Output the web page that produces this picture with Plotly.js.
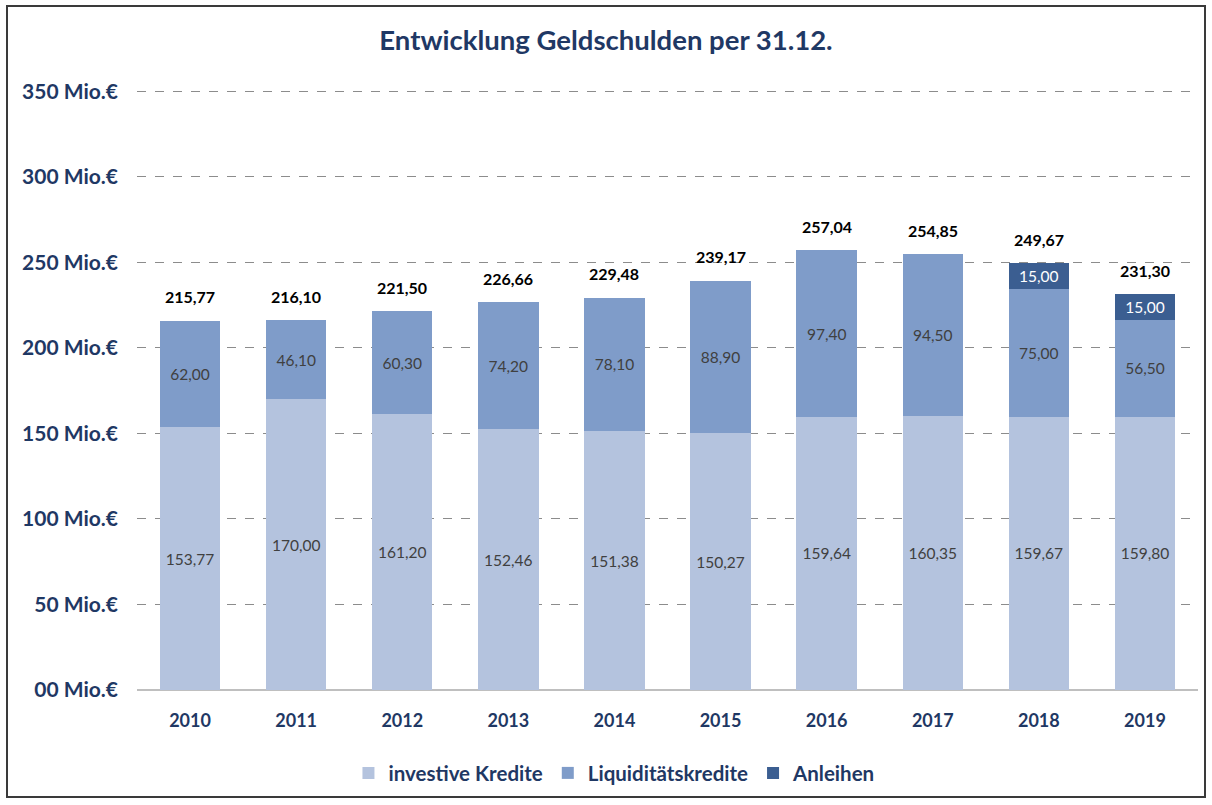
<!DOCTYPE html>
<html><head><meta charset="utf-8">
<script src="https://cdn.plot.ly/plotly-3.0.1.min.js"></script>
<style>
html,body{margin:0;padding:0;background:#fff;}
#wrap{position:relative;width:1212px;height:805px;}
#chart{width:1212px;height:805px;}
#frame{position:absolute;left:6px;top:5px;width:1200px;height:793px;border:2px solid #3a3a3a;pointer-events:none;box-sizing:border-box;}
</style></head>
<body><div id="wrap"><div id="chart"></div><div id="frame"></div></div>
<script>
const years = ['2010','2011','2012','2013','2014','2015','2016','2017','2018','2019'];
const investiveKredite = [153.77,170.00,161.20,152.46,151.38,150.27,159.64,160.35,159.67,159.80];
const liquiditaetskredite = [62.00,46.10,60.30,74.20,78.10,88.90,97.40,94.50,75.00,56.50];
const anleihen = [null,null,null,null,null,null,null,null,15.00,15.00];
const totals = [215.77,216.10,221.50,226.66,229.48,239.17,257.04,254.85,249.67,231.30];
const tickVals = [0,50,100,150,200,250,300,350];
const tickText = ['00 Mio.€','50 Mio.€','100 Mio.€','150 Mio.€','200 Mio.€','250 Mio.€','300 Mio.€','350 Mio.€'];

const fmt = v => v == null ? '' : v.toFixed(2).replace('.', ',');
const font = 'Lato, "Open Sans", sans-serif';
const navy = '#1F3864';

const traces = [
  {type:'bar', name:'investive Kredite', x:years, y:investiveKredite,
   marker:{color:'#B4C3DE'}, text:investiveKredite.map(fmt), textposition:'inside',
   insidetextanchor:'middle', textfont:{size:15.5, color:'#404040', family:font}, hoverinfo:'y'},
  {type:'bar', name:'Liquiditätskredite', x:years, y:liquiditaetskredite,
   marker:{color:'#7F9CC9'}, text:liquiditaetskredite.map(fmt), textposition:'inside',
   insidetextanchor:'middle', textfont:{size:15.5, color:'#404040', family:font}, hoverinfo:'y'},
  {type:'bar', name:'Anleihen', x:years, y:anleihen,
   marker:{color:'#3B5E91'}, text:anleihen.map(fmt), textposition:'inside',
   insidetextanchor:'middle', textfont:{size:15.5, color:'#ffffff', family:font}, hoverinfo:'y'}
];

// annotations on a category axis: use the category index as position
const annotations = years.map((yr, i) => ({
  x: i, y: totals[i], xref:'x', yref:'y', text: fmt(totals[i]), showarrow:false,
  yanchor:'middle', yshift:24, font:{size:16, color:'#000000', family:font, weight:'bold'}
}));

const layout = {
  width:1212, height:805,
  margin:{l:137, r:14, t:88, b:115},
  barmode:'stack', bargap:0.43,
  paper_bgcolor:'#ffffff', plot_bgcolor:'#ffffff',
  title:{text:'Entwicklung Geldschulden per 31.12.', x:0.5, xanchor:'center', y:0.950, yanchor:'middle',
         font:{size:27.5, color:navy, family:font, weight:'bold'}},
  xaxis:{type:'category', range:[-0.5, 9.5], tickfont:{size:18, color:navy, family:font, weight:'bold'},
         showgrid:false, showline:false, ticks:'', ticklabelstandoff:18, fixedrange:true},
  yaxis:{range:[0,352], tickvals:tickVals, ticktext:tickText,
         tickfont:{size:21, color:navy, family:font, weight:'bold'},
         showgrid:true, gridcolor:'#8c8c8c', griddash:'dash', gridwidth:1,
         zeroline:true, zerolinecolor:'#bfbfbf', zerolinewidth:1.5,
         ticks:'', ticklabelstandoff:18, fixedrange:true},
  legend:{orientation:'h', x:0.45, xanchor:'center', y:-0.138, yanchor:'middle',
          font:{size:20.5, color:navy, family:font, weight:'bold'}, traceorder:'normal'},
  annotations: annotations,
  showlegend:true
};
Plotly.newPlot('chart', traces, layout, {displayModeBar:false, staticPlot:true});
</script></body></html>
